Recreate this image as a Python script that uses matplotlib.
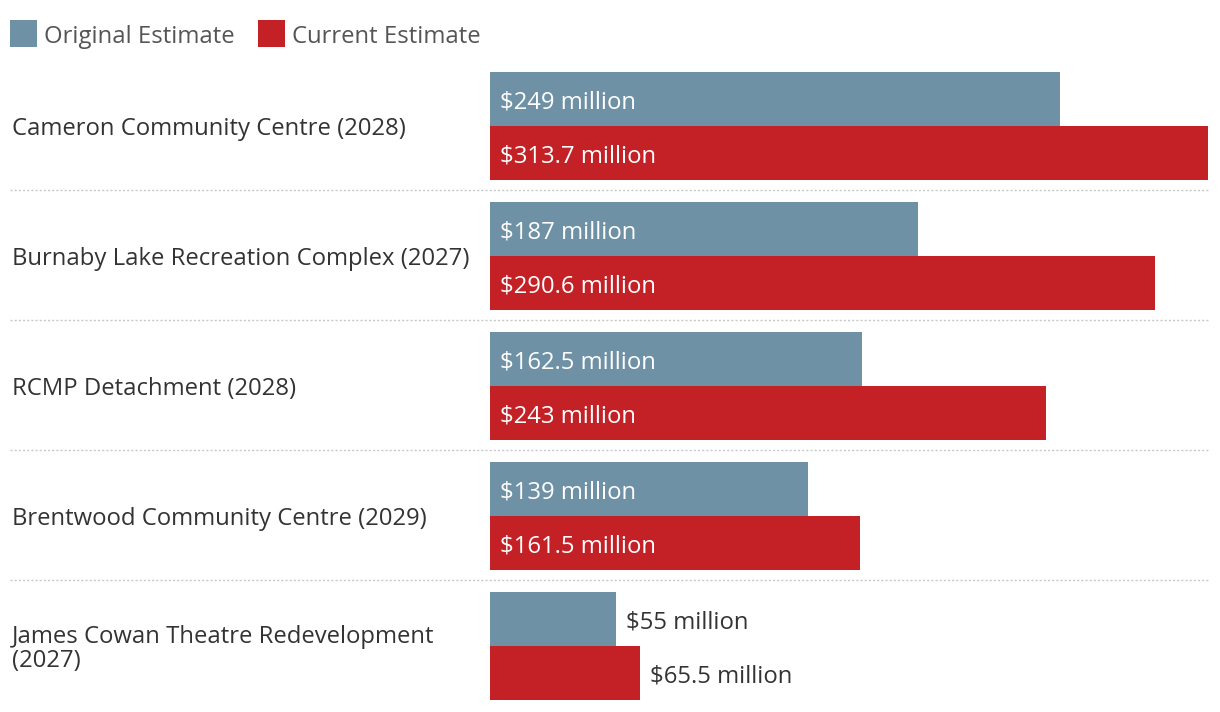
import matplotlib
matplotlib.use("Agg")
import matplotlib.pyplot as plt
from matplotlib.patches import Rectangle
import matplotlib.transforms as mtransforms

categories = [
    "Cameron Community Centre (2028)",
    "Burnaby Lake Recreation Complex (2027)",
    "RCMP Detachment (2028)",
    "Brentwood Community Centre (2029)",
    "James Cowan Theatre Redevelopment\n(2027)",
]
original = [249, 187, 162.5, 139, 55]
current = [313.7, 290.6, 243, 161.5, 65.5]
original_labels = ["$249 million", "$187 million", "$162.5 million", "$139 million", "$55 million"]
current_labels = ["$313.7 million", "$290.6 million", "$243 million", "$161.5 million", "$65.5 million"]
series_names = ["Original Estimate", "Current Estimate"]

BLUE = "#6f91a6"
RED = "#c42127"
TXT = "#333333"
FONT = "Open Sans"
FS = 17.2

W, H = 1220, 712
fig = plt.figure(figsize=(W / 100, H / 100), dpi=100)
fig.patch.set_facecolor("white")

ax_left, ax_right = 490, 1208
ax_top, ax_bottom = 61, 711
ax = fig.add_axes([ax_left / W, 1 - ax_bottom / H, (ax_right - ax_left) / W, (ax_bottom - ax_top) / H])
ax.set_xlim(0, max(current))
ax.set_ylim(4.5, -0.5)
ax.axis("off")

bh = 54 / 130
n = len(categories)
for i in range(n):
    ax.barh(i - bh / 2, original[i], height=bh, color=BLUE, linewidth=0)
    ax.barh(i + bh / 2, current[i], height=bh, color=RED, linewidth=0)

DY = -3
t_off = mtransforms.offset_copy(ax.transData, fig=fig, x=10, y=DY, units="dots")
for i in range(n):
    for val, lab, yy in ((original[i], original_labels[i], i - bh / 2), (current[i], current_labels[i], i + bh / 2)):
        if val > 100:
            ax.text(0, yy, lab, transform=t_off, ha="left", va="center", color="white",
                    fontsize=FS, family=FONT)
        else:
            ax.text(val, yy, lab, transform=t_off, ha="left", va="center", color=TXT,
                    fontsize=FS, family=FONT)

# category labels
blend = mtransforms.blended_transform_factory(fig.transFigure, ax.transData)
blend_off = mtransforms.offset_copy(blend, fig=fig, x=0, y=DY, units="dots")
for i, c in enumerate(categories):
    ax.text(12 / W, i, c, transform=blend_off, ha="left", va="center", color=TXT,
            fontsize=FS, family=FONT, linespacing=1.0)

# separators
for i in range(n - 1):
    ax.plot([10 / W, ax_right / W], [i + 0.5 - 0.005, i + 0.5 - 0.005], transform=blend, color="#c8c8c8",
            linewidth=1, linestyle=(0, (1.5, 1.5)), clip_on=False)

# legend
for (x0, tx), name, col in zip(((10, 44), (258, 292)), series_names, (BLUE, RED)):
    fig.patches.append(Rectangle((x0 / W, 1 - 47 / H), 27 / W, 27 / H, transform=fig.transFigure,
                                 facecolor=col, edgecolor="none"))
    fig.text(tx / W, 1 - 37 / H, name, ha="left", va="center", color="#555555",
             fontsize=FS, family=FONT)

fig.savefig("out.png", dpi=100, facecolor="white")
